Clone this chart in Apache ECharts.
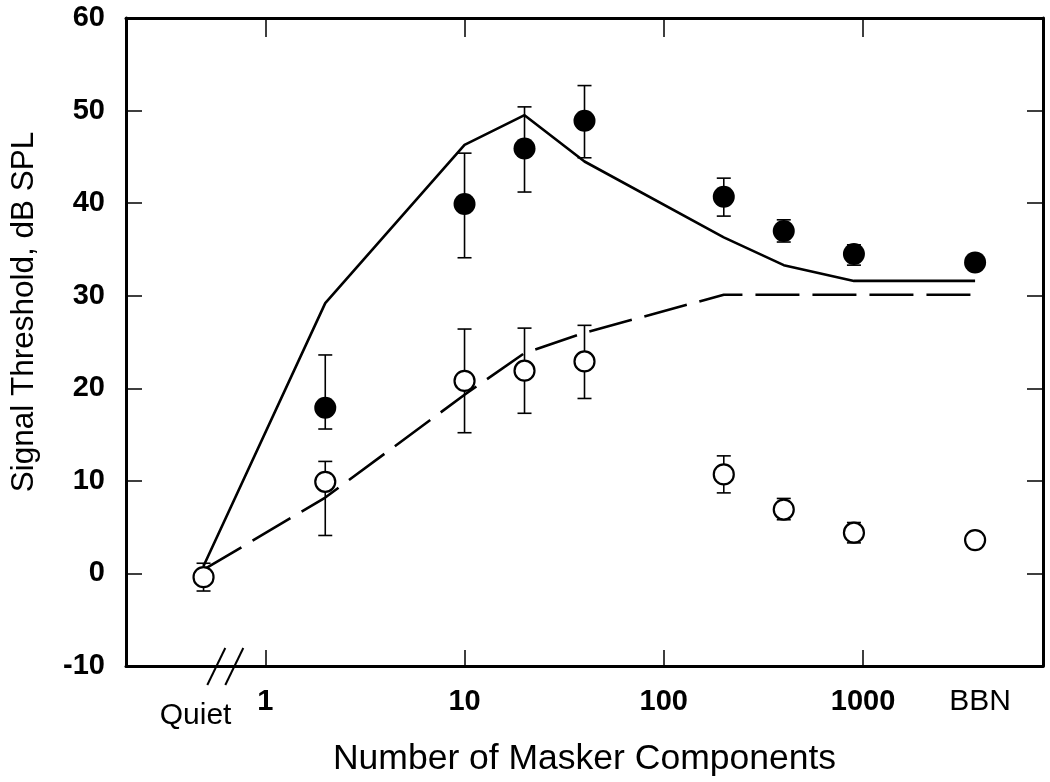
<!DOCTYPE html>
<html>
<head>
<meta charset="utf-8">
<script src="https://cdn.jsdelivr.net/npm/echarts@6/dist/echarts.min.js"></script>
<style>
  html, body { margin: 0; padding: 0; background: #fff; }
  #chart { width: 1050px; height: 782px; }
</style>
</head>
<body>
<div id="chart"></div>
<script>
// where "Quiet" and "BBN" sit on the log axis (they are not real counts)
const QUIET = 0.49;
const BBN = 3650;

const FONT = '"Liberation Sans", Arial, Helvetica, sans-serif';

// filled circles
const filledX = [2, 10, 20, 40, 200, 400, 900, BBN];
const filledY = [17.9, 39.9, 45.9, 48.9, 40.7, 37.0, 34.5, 33.6];
const filledLow = [15.6, 34.1, 41.2, 44.9, 38.6, 35.8, 33.3, null];
const filledHigh = [23.6, 45.4, 50.4, 52.7, 42.7, 38.2, 35.5, null];

// open circles
const openX = [QUIET, 2, 10, 20, 40, 200, 400, 900, BBN];
const openY = [-0.4, 9.9, 20.8, 21.9, 22.9, 10.7, 6.9, 4.4, 3.6];
const openLow = [-1.9, 4.1, 15.2, 17.3, 18.9, 8.7, 5.8, 3.3, null];
const openHigh = [1.1, 12.1, 26.4, 26.5, 26.8, 12.7, 8.1, 5.5, null];

// model curves
const solidX = [QUIET, 2, 10, 20, 40, 200, 400, 900, BBN];
const solidY = [0.8, 29.2, 46.3, 49.5, 44.5, 36.3, 33.3, 31.6, 31.6];
const dashedX = [QUIET, 2, 10, 20, 40, 200, BBN];
const dashedY = [0.4, 8.2, 19.3, 23.8, 26.0, 30.1, 30.1];

const xTicks = [1, 10, 100, 1000];
const xLabels = [QUIET, 1, 10, 100, 1000, BBN];
const xLabelText = { [QUIET]: '{q|Quiet}', [BBN]: '{b|BBN}' };

const pairs = (xs, ys) => xs.map((x, i) => [x, ys[i]]);

function errorBars(xs, lows, highs) {
  return {
    type: 'custom',
    silent: true,
    z: 2,
    encode: { x: 0, y: [1, 2] },
    data: xs.map((x, i) => [x, lows[i], highs[i]]).filter((d) => d[1] != null),
    renderItem: (params, api) => {
      const lo = api.coord([api.value(0), api.value(1)]);
      const hi = api.coord([api.value(0), api.value(2)]);
      const w = 7;
      const style = { stroke: '#000', lineWidth: 1.6 };
      return {
        type: 'group',
        children: [
          { type: 'line', shape: { x1: lo[0], y1: lo[1], x2: hi[0], y2: hi[1] }, style },
          { type: 'line', shape: { x1: lo[0] - w, y1: lo[1], x2: lo[0] + w, y2: lo[1] }, style },
          { type: 'line', shape: { x1: hi[0] - w, y1: hi[1], x2: hi[0] + w, y2: hi[1] }, style },
        ],
      };
    },
  };
}

const frameLine = { show: true, onZero: false, lineStyle: { color: '#000', width: 3 } };
const innerTick = { show: true, inside: true, length: 16, lineStyle: { color: '#000', width: 1.5 } };

const chart = echarts.init(document.getElementById('chart'));

chart.setOption({
  animation: false,
  backgroundColor: '#fff',
  grid: { left: 122, right: 7, top: 18, bottom: 116 },
  xAxis: [
    {
      type: 'log',
      logBase: 10,
      min: 0.2,
      max: 8000,
      position: 'bottom',
      axisLine: frameLine,
      axisTick: { ...innerTick, customValues: xTicks },
      splitLine: { show: false },
      axisLabel: {
        customValues: xLabels,
        formatter: (v) => xLabelText[v] || String(Math.round(v)),
        color: '#000',
        fontFamily: FONT,
        fontSize: 29,
        fontWeight: 'bold',
        margin: 21,
        rich: {
          q: { fontFamily: FONT, fontSize: 30, fontWeight: 'normal', color: '#000', padding: [14, 16, 0, 0] },
          b: { fontFamily: FONT, fontSize: 30, fontWeight: 'normal', color: '#000', padding: [0, 0, 0, 10] },
        },
      },
      name: 'Number of Masker Components',
      nameLocation: 'middle',
      nameGap: 75,
      nameTextStyle: { fontFamily: FONT, fontSize: 35.5, color: '#000' },
    },
    {
      type: 'log',
      logBase: 10,
      min: 0.2,
      max: 8000,
      position: 'top',
      axisLine: frameLine,
      axisTick: { ...innerTick, length: 19, customValues: xTicks },
      axisLabel: { show: false },
      splitLine: { show: false },
    },
  ],
  yAxis: [
    {
      type: 'value',
      min: -10,
      max: 60,
      interval: 10,
      position: 'left',
      axisLine: frameLine,
      axisTick: innerTick,
      splitLine: { show: false },
      axisLabel: {
        color: '#000',
        fontFamily: FONT,
        fontSize: 29,
        fontWeight: 'bold',
        margin: 21,
      },
      name: 'Signal Threshold, dB SPL',
      nameLocation: 'middle',
      nameGap: 86,
      nameTextStyle: { fontFamily: FONT, fontSize: 31.5, color: '#000', padding: [0, 0, 0, 60] },
    },
    {
      type: 'value',
      min: -10,
      max: 60,
      interval: 10,
      position: 'right',
      axisLine: frameLine,
      axisTick: innerTick,
      axisLabel: { show: false },
      splitLine: { show: false },
    },
  ],
  series: [
    {
      type: 'line',
      data: pairs(solidX, solidY),
      showSymbol: false,
      silent: true,
      z: 1,
      lineStyle: { color: '#000', width: 2.6 },
    },
    {
      type: 'line',
      data: pairs(dashedX, dashedY),
      showSymbol: false,
      silent: true,
      z: 1,
      lineStyle: { color: '#000', width: 2.6, type: [44, 13] },
    },
    errorBars(filledX, filledLow, filledHigh),
    errorBars(openX, openLow, openHigh),
    {
      type: 'scatter',
      data: pairs(filledX, filledY),
      symbol: 'circle',
      symbolSize: 22,
      z: 3,
      itemStyle: { color: '#000', opacity: 1 },
    },
    {
      type: 'scatter',
      data: pairs(openX, openY),
      symbol: 'circle',
      symbolSize: 20,
      z: 3,
      itemStyle: { color: '#fff', borderColor: '#000', borderWidth: 2.2, opacity: 1 },
    },
  ],
});

// axis break marks "//" between Quiet and 1
const breakX = chart.convertToPixel({ xAxisIndex: 0 }, 0.63);
const axisY = chart.convertToPixel({ yAxisIndex: 0 }, -10);
const slash = (dx) => ({
  type: 'line',
  silent: true,
  shape: { x1: breakX + dx - 18, y1: axisY + 19, x2: breakX + dx, y2: axisY - 18 },
  style: { stroke: '#000', lineWidth: 2 },
});
chart.setOption({ graphic: [slash(0), slash(18)] });
</script>
</body>
</html>
